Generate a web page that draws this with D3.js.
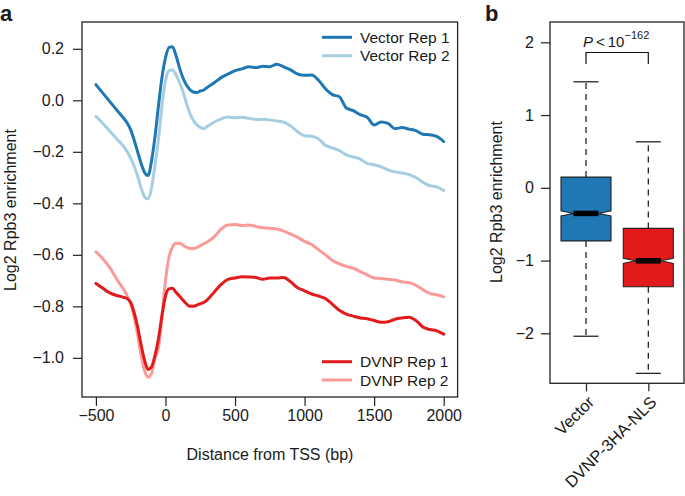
<!DOCTYPE html>
<html><head><meta charset="utf-8">
<script src="https://cdn.jsdelivr.net/npm/d3@7"></script>
<style>
body{margin:0;background:#fff;}
text{font-family:"Liberation Sans",Arial,Helvetica,sans-serif;fill:#1a1a1a;}
</style></head>
<body><svg id="c" width="685" height="496"></svg>
<script>
// ---------- Panel a data ----------
const positions = [-500,-450,-400,-350,
 -300,-275,-250,-225,-200,-175,-150,-125,-100,-75,-50,-25,0,25,50,75,100,125,150,175,200,225,250,275,300,
 350,400,450,500,550,600,650,700,750,800,850,900,950,1000,1050,1100,1150,1200,1250,1300,1350,1400,1450,1500,1550,1600,1650,1700,1750,1800,1850,1900,1950,2000];
const vectorRep1 = [0.061,0.028,-0.005,-0.038,
 -0.070,-0.088,-0.115,-0.155,-0.200,-0.245,-0.280,-0.292,-0.235,-0.140,-0.020,0.090,0.165,0.205,0.208,0.175,0.128,0.088,0.060,0.042,0.032,0.030,0.036,0.040,0.050,
 0.068,0.088,0.102,0.115,0.122,0.130,0.127,0.132,0.130,0.140,0.130,0.118,0.102,0.097,0.098,0.078,0.045,0.022,0.014,-0.030,-0.040,-0.056,-0.066,-0.096,-0.084,-0.090,-0.110,-0.106,-0.112,-0.118,-0.132,-0.134,-0.140,-0.160];
const vectorRep2 = [-0.062,-0.090,-0.120,-0.150,
 -0.180,-0.200,-0.225,-0.255,-0.295,-0.340,-0.375,-0.382,-0.340,-0.250,-0.150,-0.020,0.075,0.115,0.118,0.100,0.070,0.035,-0.010,-0.050,-0.078,-0.095,-0.105,-0.110,-0.102,
 -0.085,-0.072,-0.065,-0.068,-0.066,-0.070,-0.075,-0.074,-0.076,-0.080,-0.085,-0.100,-0.122,-0.138,-0.140,-0.150,-0.175,-0.185,-0.195,-0.212,-0.220,-0.228,-0.245,-0.250,-0.258,-0.270,-0.278,-0.282,-0.288,-0.300,-0.318,-0.332,-0.336,-0.350];
const dvnpRep1 = [-0.711,-0.730,-0.748,-0.758,
 -0.765,-0.770,-0.785,-0.825,-0.880,-0.950,-1.010,-1.045,-1.035,-0.990,-0.925,-0.835,-0.760,-0.732,-0.730,-0.745,-0.760,-0.775,-0.790,-0.800,-0.800,-0.795,-0.790,-0.785,-0.775,
 -0.745,-0.715,-0.695,-0.690,-0.685,-0.686,-0.688,-0.695,-0.690,-0.690,-0.688,-0.705,-0.728,-0.740,-0.752,-0.760,-0.770,-0.792,-0.815,-0.830,-0.838,-0.845,-0.848,-0.855,-0.862,-0.860,-0.850,-0.845,-0.842,-0.855,-0.880,-0.890,-0.895,-0.908];
const dvnpRep2 = [-0.588,-0.615,-0.650,-0.695,
 -0.735,-0.760,-0.790,-0.840,-0.910,-0.990,-1.050,-1.075,-1.060,-1.000,-0.960,-0.840,-0.700,-0.610,-0.570,-0.555,-0.555,-0.562,-0.570,-0.575,-0.575,-0.572,-0.565,-0.557,-0.550,
 -0.530,-0.500,-0.484,-0.482,-0.486,-0.484,-0.490,-0.495,-0.497,-0.500,-0.508,-0.520,-0.532,-0.548,-0.560,-0.580,-0.600,-0.622,-0.635,-0.645,-0.652,-0.665,-0.678,-0.690,-0.692,-0.695,-0.698,-0.705,-0.708,-0.718,-0.735,-0.750,-0.755,-0.763];
const seriesNames = ["Vector Rep 1","Vector Rep 2","DVNP Rep 1","DVNP Rep 2"];
const seriesColors = ["#1f78b4","#a6cee3","#e31a1c","#fb9a99"];
const xTicksA = [-500,0,500,1000,1500,2000];
const yTicksA = [0.2,0.0,-0.2,-0.4,-0.6,-0.8,-1.0];

// ---------- Panel b data ----------
const groups = ["Vector","DVNP-3HA-NLS"];
const whiskerLow = [-2.04,-2.55];
const q1 = [-0.73,-1.36];
const medians = [-0.352,-1.003];
const q3 = [0.147,-0.558];
const whiskerHigh = [1.457,0.632];
const notchHalf = [0.035,0.035];
const boxColors = ["#1f78b4","#e31a1c"];
const yTicksB = [2,1,0,-1,-2];

const svg = d3.select("#c");
const ink = "#222";

// ================= Panel a =================
const xA = d3.scaleLinear().domain([-600,2100]).range([82,457.6]);
const yA = d3.scaleLinear().domain([-1.152,0.304]).range([397,22]);
const gA = svg.append("g");

const line = d3.line().x((d,i)=>xA(positions[i])).y(d=>yA(d)).curve(d3.curveMonotoneX);
const allSeries = [vectorRep1,vectorRep2,dvnpRep1,dvnpRep2];
[1,0,3,2].forEach(k=>{
  gA.append("path").datum(allSeries[k]).attr("d",line)
    .attr("fill","none").attr("stroke",seriesColors[k]).attr("stroke-width",3)
    .attr("stroke-linejoin","round").attr("stroke-linecap","round");
});

gA.append("rect").attr("x",82).attr("y",22).attr("width",457.6-82).attr("height",397-22)
  .attr("fill","none").attr("stroke",ink).attr("stroke-width",1.3);

const axBA = gA.append("g").attr("transform","translate(0,397)")
  .call(d3.axisBottom(xA).tickValues(xTicksA).tickSize(9).tickPadding(4).tickFormat(d=>d<0?"\u2212"+Math.abs(d):d));
const axLA = gA.append("g").attr("transform","translate(82,0)")
  .call(d3.axisLeft(yA).tickValues(yTicksA).tickSize(9).tickPadding(9).tickFormat(d=>{const s=Math.abs(d).toFixed(1);return d<0?"\u2212"+s:s;}));
[axBA,axLA].forEach(a=>{
  a.select(".domain").remove();
  a.selectAll(".tick line").attr("stroke",ink).attr("stroke-width",1.2);
  a.selectAll(".tick text").attr("font-size",16).attr("fill","#1a1a1a").style("font-family","Liberation Sans, Arial, sans-serif");
});

gA.append("text").attr("x",270).attr("y",460).attr("text-anchor","middle").attr("font-size",16).text("Distance from TSS (bp)");
gA.append("text").attr("transform","translate(16,210) rotate(-90)").attr("text-anchor","middle").attr("font-size",16).text("Log2 Rpb3 enrichment");
gA.append("text").attr("x",0).attr("y",21).attr("font-size",22).attr("font-weight","bold").text("a");

// legends
const legY = [37.3,55.7,361.7,380];
seriesNames.forEach((n,k)=>{
  const y = legY[k];
  gA.append("line").attr("x1",322).attr("x2",352).attr("y1",y).attr("y2",y)
    .attr("stroke",seriesColors[k]).attr("stroke-width",3);
  gA.append("text").attr("x",360).attr("y",y+5.5).attr("font-size",15.5).text(n);
});

// ================= Panel b =================
const xB = d3.scalePoint().domain(groups).range([586,648.3]);
const yB = d3.scaleLinear().domain([-2.687,2.279]).range([383.3,22]);
const gB = svg.append("g");
const bw = 25, cap = 12.5, nf = 0.5;

groups.forEach((g,i)=>{
  const cx = xB(g);
  gB.append("line").attr("x1",cx).attr("x2",cx).attr("y1",yB(q3[i])).attr("y2",yB(whiskerHigh[i]))
    .attr("stroke","#111").attr("stroke-width",1.2).attr("stroke-dasharray","6,5");
  gB.append("line").attr("x1",cx).attr("x2",cx).attr("y1",yB(q1[i])).attr("y2",yB(whiskerLow[i]))
    .attr("stroke","#111").attr("stroke-width",1.2).attr("stroke-dasharray","6,5");
  [whiskerHigh[i],whiskerLow[i]].forEach(v=>{
    gB.append("line").attr("x1",cx-cap).attr("x2",cx+cap).attr("y1",yB(v)).attr("y2",yB(v))
      .attr("stroke","#111").attr("stroke-width",1.2);
  });
  const pts = [
    [cx-bw,yB(q1[i])],[cx+bw,yB(q1[i])],[cx+bw,yB(medians[i]-notchHalf[i])],
    [cx+bw*nf,yB(medians[i])],[cx+bw,yB(medians[i]+notchHalf[i])],[cx+bw,yB(q3[i])],
    [cx-bw,yB(q3[i])],[cx-bw,yB(medians[i]+notchHalf[i])],[cx-bw*nf,yB(medians[i])],
    [cx-bw,yB(medians[i]-notchHalf[i])]
  ];
  gB.append("polygon").attr("points",pts.map(p=>p.join(",")).join(" "))
    .attr("fill",boxColors[i]).attr("stroke","#222").attr("stroke-width",1.1);
  gB.append("line").attr("x1",cx-bw*nf).attr("x2",cx+bw*nf).attr("y1",yB(medians[i])).attr("y2",yB(medians[i]))
    .attr("stroke","#000").attr("stroke-width",5.5);
});

gB.append("rect").attr("x",550).attr("y",22).attr("width",684-550).attr("height",383.3-22)
  .attr("fill","none").attr("stroke",ink).attr("stroke-width",1.3);

const axLB = gB.append("g").attr("transform","translate(550,0)")
  .call(d3.axisLeft(yB).tickValues(yTicksB).tickSize(9).tickPadding(7).tickFormat(d=>d<0?"\u2212"+Math.abs(d):d));
const axBB = gB.append("g").attr("transform","translate(0,383.3)")
  .call(d3.axisBottom(xB).tickSize(8).tickFormat(""));
[axLB,axBB].forEach(a=>{
  a.select(".domain").remove();
  a.selectAll(".tick line").attr("stroke",ink).attr("stroke-width",1.2);
  a.selectAll(".tick text").attr("font-size",16).attr("fill","#1a1a1a").style("font-family","Liberation Sans, Arial, sans-serif");
});
groups.forEach(g=>{
  gB.append("text").attr("transform",`translate(${xB(g)+1},${395}) rotate(-45)`)
    .attr("text-anchor","end").attr("dy","0.7em").attr("font-size",16.5).text(g);
});

gB.append("text").attr("transform","translate(502,202) rotate(-90)").attr("text-anchor","middle").attr("font-size",16).text("Log2 Rpb3 enrichment");
gB.append("text").attr("x",485).attr("y",21).attr("font-size",22).attr("font-weight","bold").text("b");

// significance bracket
const bY = 52.5;
gB.append("path").attr("d",`M${xB(groups[0])},64 V${bY} H${xB(groups[1])} V64`)
  .attr("fill","none").attr("stroke","#111").attr("stroke-width",1.2);
const pt = gB.append("text").attr("x",583).attr("y",47).attr("font-size",15);
pt.append("tspan").attr("font-style","italic").text("P");
pt.append("tspan").text("\u2009<\u200910");
pt.append("tspan").attr("dy",-8).attr("font-size",11).text("\u2212162");
</script></body></html>
